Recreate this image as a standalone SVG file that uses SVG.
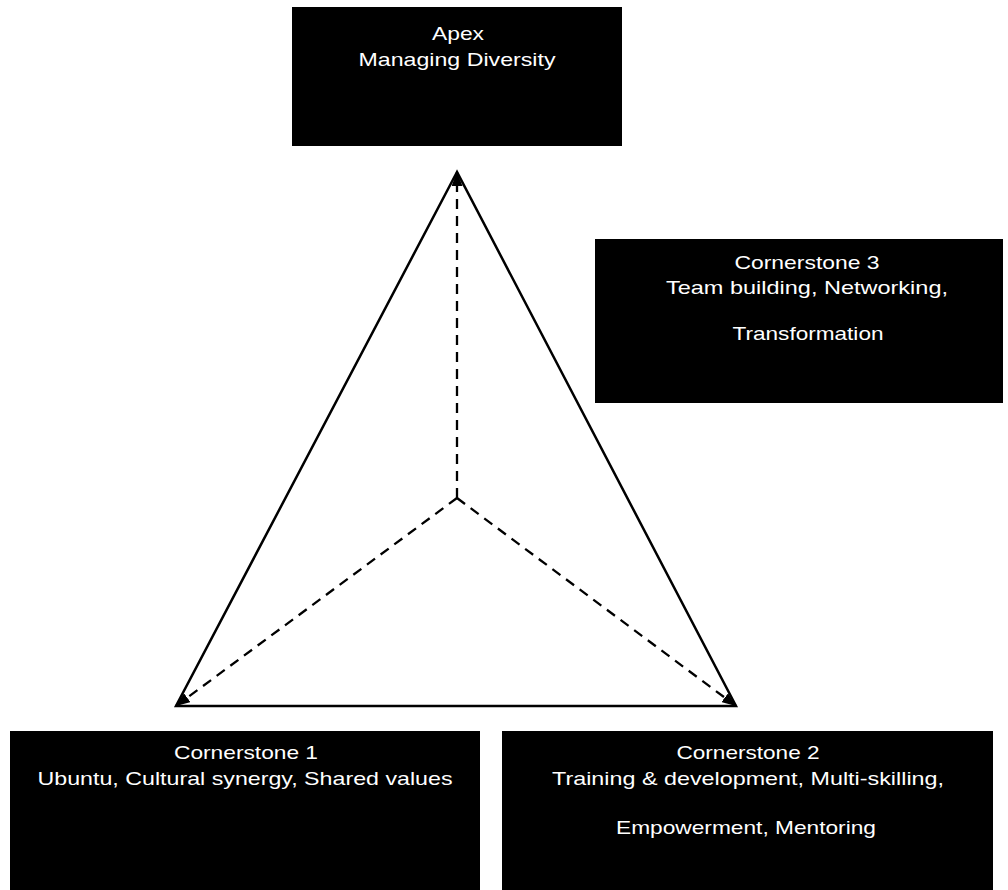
<svg xmlns="http://www.w3.org/2000/svg" width="1008" height="890" viewBox="0 0 1008 890">
  <style>
    .box { fill: #000; }
    .lbl { font-family: "Liberation Sans", Arial, sans-serif; font-size: 19px; fill: #fff; text-anchor: middle; }
    .edge { fill: none; stroke: #000; stroke-width: 2.5; stroke-linejoin: miter; }
    .dash { fill: none; stroke: #000; stroke-width: 2.3; stroke-dasharray: 10 7; }
  </style>
  <defs>
    <marker id="head" viewBox="0 0 14 11" refX="14" refY="5.5" markerWidth="14" markerHeight="11" markerUnits="userSpaceOnUse" orient="auto">
      <path d="M0,0 L14,5.5 L0,11 Z" fill="#000"/>
    </marker>
  </defs>
  <rect width="1008" height="890" fill="#fff"/>

  <!-- pyramid: outer faces and dashed inner edges to the corners -->
  <g id="connectors">
    <polygon class="edge" points="457,172 176,706 736,706"/>
    <line class="dash" x1="457" y1="498" x2="457" y2="172" marker-end="url(#head)"/>
    <line class="dash" x1="457" y1="498" x2="176" y2="706" marker-end="url(#head)"/>
    <line class="dash" x1="457" y1="498" x2="736" y2="706" marker-end="url(#head)"/>
  </g>

  <g id="apex">
    <rect class="box" x="292" y="7" width="330" height="139"/>
    <text class="lbl" x="458" y="40" textLength="52" lengthAdjust="spacingAndGlyphs">Apex</text>
    <text class="lbl" x="457" y="66" textLength="197" lengthAdjust="spacingAndGlyphs">Managing Diversity</text>
  </g>

  <g id="cornerstone3">
    <rect class="box" x="595" y="239" width="408" height="164"/>
    <text class="lbl" x="807" y="269" textLength="145" lengthAdjust="spacingAndGlyphs">Cornerstone 3</text>
    <text class="lbl" x="807" y="294" textLength="282" lengthAdjust="spacingAndGlyphs">Team building, Networking,</text>
    <text class="lbl" x="808" y="340" textLength="151" lengthAdjust="spacingAndGlyphs">Transformation</text>
  </g>

  <g id="cornerstone1">
    <rect class="box" x="10" y="731" width="470" height="159"/>
    <text class="lbl" x="246" y="759" textLength="144" lengthAdjust="spacingAndGlyphs">Cornerstone 1</text>
    <text class="lbl" x="245" y="785" textLength="415" lengthAdjust="spacingAndGlyphs">Ubuntu, Cultural synergy, Shared values</text>
  </g>

  <g id="cornerstone2">
    <rect class="box" x="502" y="731" width="491" height="159"/>
    <text class="lbl" x="748" y="759" textLength="143" lengthAdjust="spacingAndGlyphs">Cornerstone 2</text>
    <text class="lbl" x="748" y="785" textLength="392" lengthAdjust="spacingAndGlyphs">Training &amp; development, Multi-skilling,</text>
    <text class="lbl" x="746" y="834" textLength="260" lengthAdjust="spacingAndGlyphs">Empowerment, Mentoring</text>
  </g>
</svg>
